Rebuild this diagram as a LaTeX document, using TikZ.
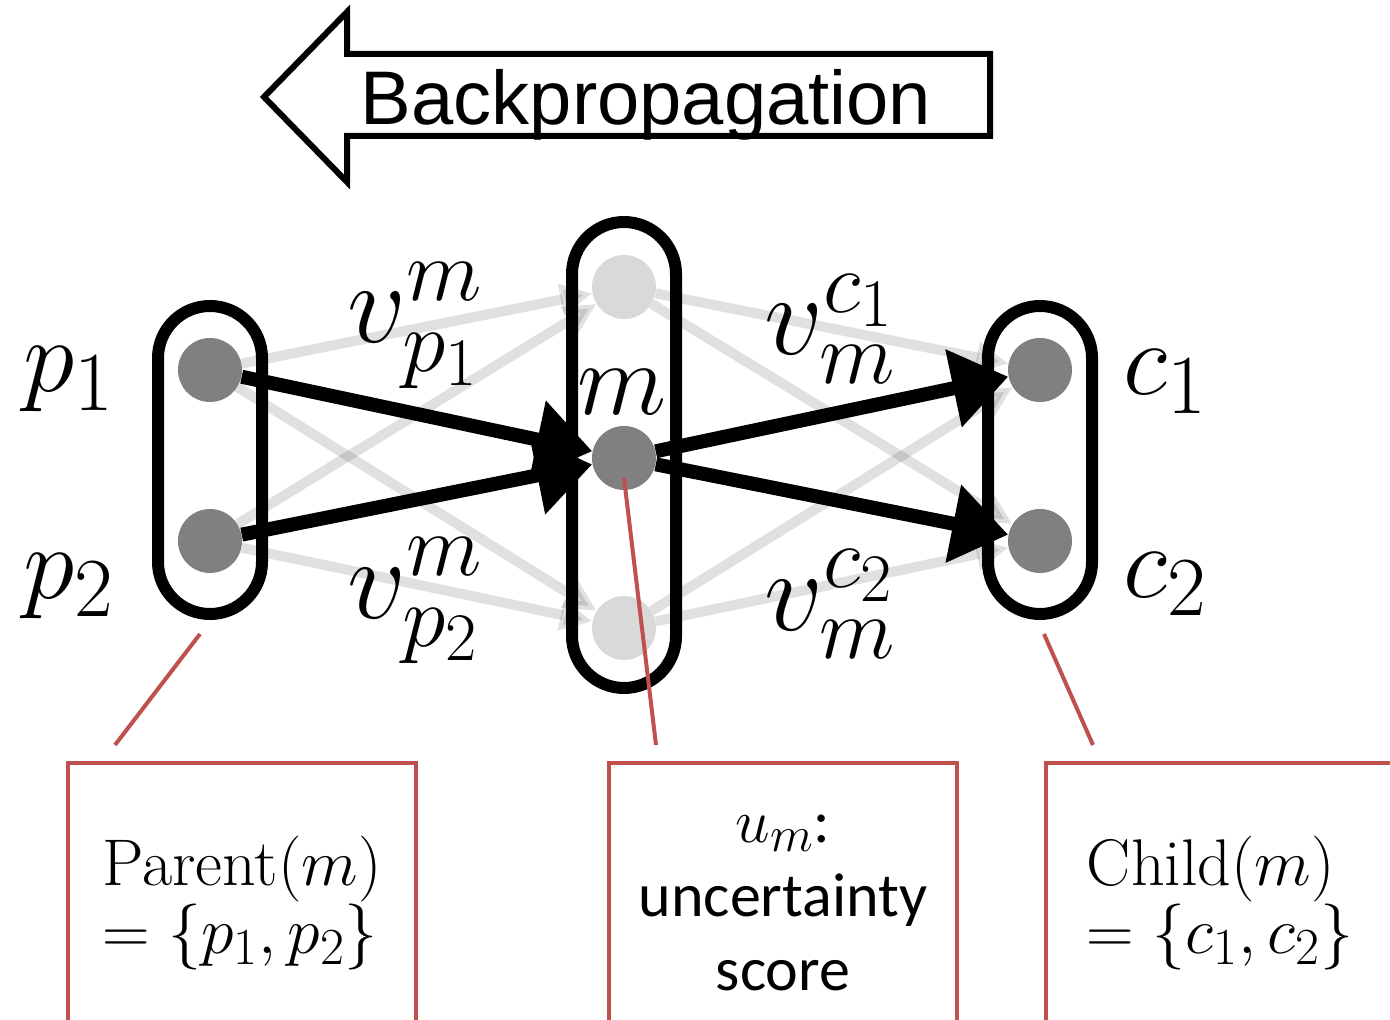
\RequirePackage{fix-cm}
\documentclass[tikz,border=0pt]{standalone}
\usepackage{fontspec}
\newfontfamily\arialfont{Liberation Sans}
\newfontfamily\calibrifont{Carlito}[UprightFont=*-Regular]
\usepackage{xcolor}
\usetikzlibrary{arrows.meta, positioning, backgrounds}
\definecolor{noteRed}{RGB}{192,80,77}
\DeclareMathSizes{52}{52}{42}{32}
\DeclareMathSizes{58}{58}{44}{34}
\DeclareMathSizes{33}{33}{26}{20}
\DeclareMathSizes{31}{31}{25}{19}

\begin{document}
\begin{tikzpicture}[x=0.5pt, y=-0.5pt,
  pill/.style={draw=black, line width=6pt, rounded corners=26pt, minimum width=52pt, inner sep=0pt},
  unit/.style={circle, fill=black!50, minimum size=32pt, inner sep=0pt},
  faded/.style={circle, fill=black!15, minimum size=32pt, inner sep=0pt},
  lbl/.style={font=\fontsize{52}{60}\selectfont, inner sep=0pt, anchor=base},
  wlbl/.style={font=\fontsize{58}{66}\selectfont, inner sep=0pt, anchor=base},
  mainedge/.style={line width=7pt, -{Triangle[length=28pt, width=38pt]}},
  fadededge/.style={line width=5pt, black, opacity=0.12, -{Triangle[length=16pt, width=15pt]}},
  note/.style={draw=noteRed, line width=2pt, minimum width=174pt, minimum height=140pt, inner sep=0pt},
  link/.style={draw=noteRed, line width=2pt}
]
  \useasboundingbox (0,0) rectangle (1390,1020);

  % Backpropagation arrow
  \draw[line width=3pt, miter limit=10]
    (990,54) -- (347,54) -- (347,12) -- (264,97) -- (347,182) -- (347,136) -- (990,136) -- cycle;
  \node[font=\arialfont\fontsize{38}{45}\selectfont, anchor=base, inner sep=0pt] (bp) at (646,125) {Backpropagation};

  % Layers
  \node[pill, minimum height=154pt] (parents) at (210,460) {};
  \node[pill, minimum height=233pt] (middle) at (624,455) {};
  \node[pill, minimum height=154pt] (children) at (1040,460) {};

  % Units
  \node[unit] (p1) at (210,370) {};
  \node[unit] (p2) at (210,541) {};
  \node[faded] (mt) at (624,287) {};
  \node[unit] (m) at (624,458) {};
  \node[faded] (mb) at (624,628) {};
  \node[unit] (c1) at (1040,370) {};
  \node[unit] (c2) at (1040,541) {};

  % Other connections (faded)
  \begin{scope}[on background layer]
    \foreach \a/\b in {p1/mt, p1/mb, p2/mt, p2/mb, mt/c1, mt/c2, mb/c1, mb/c2}{
      \draw[fadededge] (\a) -- (\b);
    }
  \end{scope}

  % Connections through m
  \draw[mainedge] (p1) -- (m);
  \draw[mainedge] (p2) -- (m);
  \draw[mainedge] (m) -- (c1);
  \draw[mainedge] (m) -- (c2);

  % Unit labels
  \node[lbl] (lp1) at (69,392) {$p_1$};
  \node[lbl] (lp2) at (69,598) {$p_2$};
  \node[lbl] (lm) at (622,415) {$m$};
  \node[lbl] (lc1) at (1165,395) {$c_1$};
  \node[lbl] (lc2) at (1165,597) {$c_2$};

  % Weight labels
  \node[wlbl] (wp1) at (415,343) {$v_{p_1}^{m}$};
  \node[wlbl] (wp2) at (415,618) {$v_{p_2}^{m}$};
  \node[wlbl] (wc1) at (830,355) {$v_{m}^{c_1}$};
  \node[wlbl] (wc2) at (830,630) {$v_{m}^{c_2}$};

  % Notes
  \node[note, align=left, font=\fontsize{33}{34}\selectfont] (parentbox) at (242,903)
    {Parent$(m)$\\$=\{p_1,p_2\}$};
  \node[note, align=center, font=\calibrifont\fontsize{31}{37}\selectfont] (scorebox) at (783,903)
    {$u_m$:\\uncertainty\\score};
  \node[note, align=left, font=\fontsize{33}{34}\selectfont] (childbox) at (1220,903)
    {Child$(m)$\\$=\{c_1,c_2\}$};

  \coordinate (pl) at (115,745);
  \coordinate (ml) at (656,745);
  \coordinate (cl) at (1093,745);
  \draw[link] ([xshift=-5pt, yshift=-7pt]parents.south) -- (pl);
  \draw[link] ([yshift=-10pt]m.center) -- (ml);
  \draw[link] ([xshift=2pt, yshift=-7pt]children.south) -- (cl);
\end{tikzpicture}
\end{document}
